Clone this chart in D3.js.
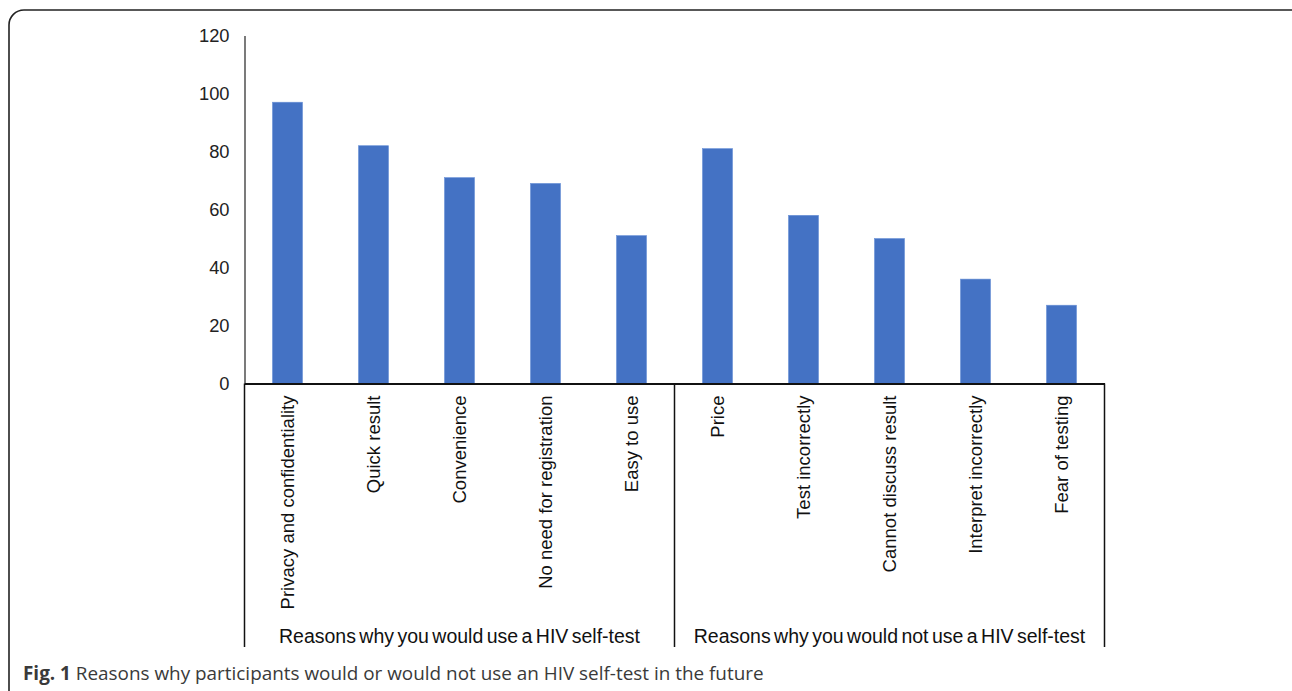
<!DOCTYPE html>
<html>
<head>
<meta charset="utf-8">
<script src="https://cdn.jsdelivr.net/npm/d3@7/dist/d3.min.js"></script>
<style>
  html, body { margin: 0; padding: 0; background: #fff; }
  svg { display: block; }
</style>
</head>
<body>
<svg id="chart" width="1292" height="691"></svg>
<script>
// ---- Data ----
const categories = [
  "Privacy and confidentiality", "Quick result", "Convenience",
  "No need for registration", "Easy to use",
  "Price", "Test incorrectly", "Cannot discuss result",
  "Interpret incorrectly", "Fear of testing"
];
const values = [97, 82, 71, 69, 51, 81, 58, 50, 36, 27];
const groupLabels = [
  "Reasons why you would use a HIV self-test",
  "Reasons why you would not use a HIV self-test"
];
const groupSizes = [5, 5];
const yTicks = [0, 20, 40, 60, 80, 100, 120];
const captionBold = "Fig. 1";
const captionText = "Reasons why participants would or would not use an HIV self-test in the future";

// ---- Layout ----
const svg = d3.select("#chart");
const plotLeft = 244.5, plotRight = 1104.5, plotTop = 35.5, plotBase = 383.5, groupBottom = 647;

// frame
svg.append("rect")
  .attr("x", 9).attr("y", 10).attr("width", 1300).attr("height", 720)
  .attr("rx", 15).attr("ry", 15)
  .attr("fill", "none").attr("stroke", "#222").attr("stroke-width", 1.6);

const x = d3.scaleBand().domain(categories).range([plotLeft, plotRight])
  .paddingInner(0.65).paddingOuter(0.325);
const y = d3.scaleLinear().domain([0, 120]).range([plotBase, plotTop]);

// bars
svg.append("g").selectAll("rect").data(categories).join("rect")
  .attr("x", d => x(d))
  .attr("y", (d, i) => y(values[i]))
  .attr("width", x.bandwidth())
  .attr("height", (d, i) => plotBase - y(values[i]))
  .attr("fill", "#4472C4")
  .attr("stroke", "#6d93d8").attr("stroke-width", 0.6);

// y axis
const yAxis = d3.axisLeft(y).tickValues(yTicks).tickSize(0).tickPadding(15);
const gy = svg.append("g").attr("transform", `translate(${plotLeft},0)`).call(yAxis);
gy.select(".domain").attr("stroke", "#333").attr("stroke-width", 1.3);
gy.selectAll("text")
  .attr("font-family", "'Liberation Sans', Arial, sans-serif")
  .attr("font-size", 18.3).attr("fill", "#222");

// x axis (baseline) and category labels
const xAxis = d3.axisBottom(x).tickSize(0).tickPadding(0);
const gx = svg.append("g").attr("transform", `translate(0,${plotBase})`).call(xAxis);
gx.select(".domain").attr("stroke", "#111").attr("stroke-width", 2);
gx.selectAll(".tick text")
  .attr("font-family", "'Liberation Sans', Arial, sans-serif")
  .attr("font-size", 18.5).attr("fill", "#111")
  .attr("text-anchor", "end")
  .attr("transform", "rotate(-90)")
  .attr("x", -12).attr("y", 0).attr("dy", "0.35em");

// group separators and labels
let startIdx = 0;
const bounds = [plotLeft];
groupSizes.forEach(n => {
  const endIdx = startIdx + n;
  const xEnd = endIdx >= categories.length ? plotRight : x(categories[endIdx]) - x.step() * x.paddingInner() / 2;
  bounds.push(xEnd);
  startIdx = endIdx;
});
svg.append("g").selectAll("line").data(bounds).join("line")
  .attr("x1", d => d).attr("x2", d => d)
  .attr("y1", plotBase).attr("y2", groupBottom)
  .attr("stroke", "#111").attr("stroke-width", 1.5);
svg.append("g").selectAll("text").data(groupLabels).join("text")
  .attr("x", (d, i) => (bounds[i] + bounds[i + 1]) / 2)
  .attr("y", 643)
  .attr("text-anchor", "middle")
  .attr("font-family", "'Liberation Sans', Arial, sans-serif")
  .attr("font-size", 19.5).attr("fill", "#111")
  .attr("word-spacing", -2)
  .text(d => d);

// caption
const cap = svg.append("text").attr("x", 23).attr("y", 680)
  .attr("font-family", "'Open Sans', sans-serif").attr("font-size", 18.9).attr("fill", "#3a3a3a");
cap.append("tspan").attr("font-weight", "bold").text(captionBold);
cap.append("tspan").text(" " + captionText);
</script>
</body>
</html>
